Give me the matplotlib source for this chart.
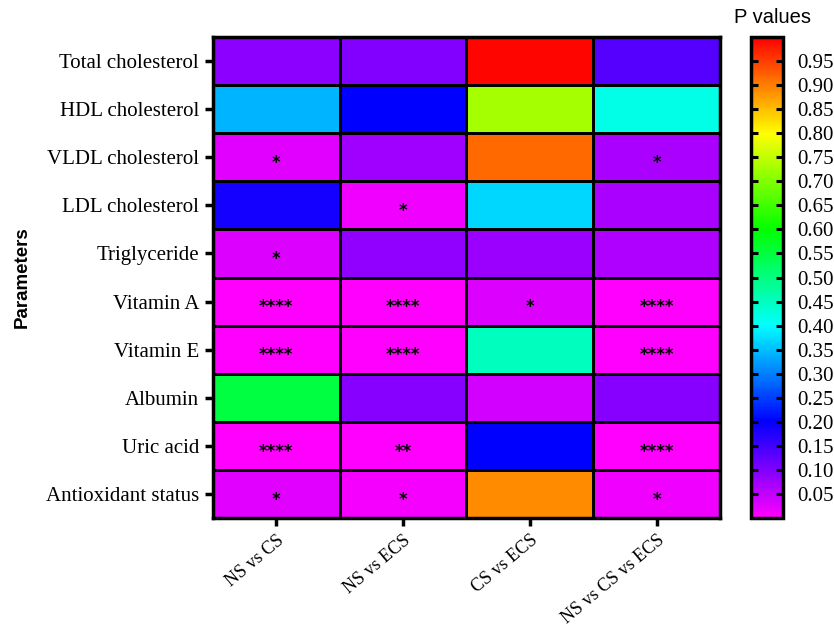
import numpy as np
import matplotlib
matplotlib.use("Agg")
import matplotlib.pyplot as plt
import matplotlib.transforms as mtransforms
from matplotlib.colors import LinearSegmentedColormap

# ============================================================
# DADOS
# ============================================================

PARAMETERS = [
    "Total cholesterol", "HDL cholesterol", "VLDL cholesterol", "LDL cholesterol",
    "Triglyceride", "Vitamin A", "Vitamin E", "Albumin", "Uric acid",
    "Antioxidant status",
]

COMPARISONS = ["NS vs CS", "NS vs ECS", "CS vs ECS", "NS vs CS vs ECS"]

# P values (linha = parametro, coluna = comparacao)
P_VALUES = [
    [0.090, 0.100, 0.995, 0.133],
    [0.340, 0.200, 0.730, 0.418],
    [0.026, 0.075, 0.916, 0.068],
    [0.184, 0.013, 0.370, 0.068],
    [0.030, 0.088, 0.080, 0.064],
    [0.000, 0.000, 0.030, 0.000],
    [0.000, 0.000, 0.450, 0.000],
    [0.550, 0.094, 0.036, 0.094],
    [0.000, 0.000, 0.200, 0.000],
    [0.024, 0.008, 0.888, 0.012],
]

STARS = [
    ["", "", "", ""],
    ["", "", "", ""],
    ["*", "", "", "*"],
    ["", "*", "", ""],
    ["*", "", "", ""],
    ["****", "****", "*", "****"],
    ["****", "****", "", "****"],
    ["", "", "", ""],
    ["****", "**", "", "****"],
    ["*", "*", "", "*"],
]

CBAR_TICKS = [0.05, 0.10, 0.15, 0.20, 0.25, 0.30, 0.35, 0.40, 0.45, 0.50,
              0.55, 0.60, 0.65, 0.70, 0.75, 0.80, 0.85, 0.90, 0.95]

# ============================================================
# FIGURA
# ============================================================

SERIF = "Liberation Serif"
SANS = "Liberation Sans"

cmap = LinearSegmentedColormap.from_list(
    "pvals",
    [(0.0, "#FF00FF"), (0.2, "#0000FF"), (0.4, "#00FFFF"),
     (0.6, "#00FF00"), (0.8, "#FFFF00"), (1.0, "#FF0000")],
)

fig = plt.figure(figsize=(8.34, 6.31), dpi=100)
ax = fig.add_axes([0.2554, 0.179, 0.6079, 0.7623])
cax = fig.add_axes([0.9005, 0.179, 0.0384, 0.7623])

data = np.array(P_VALUES)
mesh = ax.pcolormesh(data, cmap=cmap, vmin=0, vmax=1,
                     edgecolors="black", linewidth=1.0)
ax.set_xlim(0, data.shape[1])
ax.set_ylim(data.shape[0], 0)

# asteriscos
for i, row in enumerate(STARS):
    for j, s in enumerate(row):
        if s:
            ax.text(j + 0.5, i + 0.62, s, ha="center", va="center",
                    fontsize=12, fontweight="bold", family="DejaVu Sans",
                    color="black")

ax.set_xticks(np.arange(len(COMPARISONS)) + 0.5)
ax.set_xticklabels(COMPARISONS, rotation=40, ha="right",
                   rotation_mode="anchor", family=SERIF, fontsize=13)
shift = mtransforms.ScaledTranslation(-4 / 100, 0, fig.dpi_scale_trans)
for lbl in ax.get_xticklabels():
    lbl.set_transform(lbl.get_transform() + shift)
ax.set_yticks(np.arange(len(PARAMETERS)) + 0.5)
ax.set_yticklabels(PARAMETERS, family=SERIF, fontsize=15)
ax.tick_params(axis="both", length=6, width=2.5, direction="out", pad=4)
for sp in ax.spines.values():
    sp.set_linewidth(2.5)

ax.set_ylabel("Parameters", family=SANS, fontsize=13.5, fontweight="bold")
ax.yaxis.set_label_coords(-0.36, 0.5)

# barra de cores
cbar = fig.colorbar(mesh, cax=cax, ticks=CBAR_TICKS)
cbar.ax.set_yticklabels([f"{t:.2f}" for t in CBAR_TICKS],
                        family=SERIF, fontsize=15)
cbar.ax.tick_params(direction="in", left=True, right=True, length=5,
                    width=2.2, pad=10)
cbar.outline.set_linewidth(2.5)
cbar.ax.set_title("P values", family=SANS, fontsize=14.5, pad=10, x=0.66)

fig.savefig("out.png", dpi=100)
